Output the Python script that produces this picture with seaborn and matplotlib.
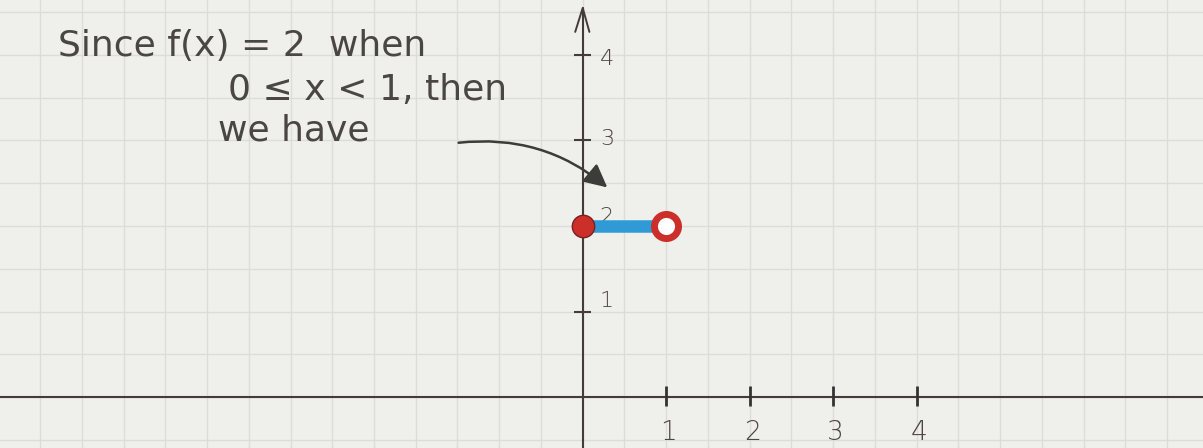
import numpy as np
import pandas as pd
import matplotlib
matplotlib.use("Agg")
import matplotlib.pyplot as plt
from matplotlib.ticker import MultipleLocator
from matplotlib.patches import FancyArrowPatch
import seaborn as sns

# --- data -------------------------------------------------------------
seg_x = [0, 1]          # f(x) = 2 on 0 <= x < 1
seg_y = [2, 2]
closed_x, closed_y = [0], [2]   # included endpoint
open_x, open_y = [1], [2]       # excluded endpoint
x_ticks = [1, 2, 3, 4]
y_ticks = [1, 2, 3, 4]
y_label_lift = [0.12, 0.1, 0.02, -0.05]
note_lines = ["Since f(x) = 2  when", "0 \u2264 x < 1, then", "we have"]

# --- style ------------------------------------------------------------
sns.set_theme(style="white")
plt.rcParams["font.family"] = ["DejaVu Sans", "Noto Sans"]

paper = "#efefec"
grid_c = "#dcdcd9"
ink = "#4a4644"
axis_c = "#443c3a"
blue = "#2f9ad6"
red = "#cc2f2a"

fig = plt.figure(figsize=(12.03, 4.48), dpi=100)
fig.patch.set_facecolor(paper)
ax = fig.add_axes([0, 0, 1, 1])
ax.set_facecolor(paper)

ax.set_xlim(-6.98, 7.43)
ax.set_ylim(-0.596, 4.643)

# graph-paper grid, half-unit squares
ax.xaxis.set_major_locator(MultipleLocator(0.5))
ax.yaxis.set_major_locator(MultipleLocator(0.5))
ax.grid(True, color=grid_c, linewidth=1.0)
ax.tick_params(length=0, labelbottom=False, labelleft=False)
for s in ax.spines.values():
    s.set_visible(False)

# coordinate axes
ax.axhline(0, color=axis_c, lw=1.5, zorder=3)
ax.plot([0, 0], [-0.6, 4.55], color=axis_c, lw=1.5, zorder=3)
ax.plot([-0.09, 0, 0.08], [4.27, 4.55, 4.27], color=axis_c, lw=1.4, zorder=3)

# tick marks and labels
ax.vlines(x_ticks, -0.11, 0.13, color="#333333", lw=2.0, zorder=3)
for t in x_ticks:
    ax.text(t + 0.03, -0.42, str(t), ha="center", va="center",
            fontsize=19, color=ink, fontweight="light")
ax.hlines(y_ticks, -0.1, 0.1, color=axis_c, lw=1.5, zorder=3)
for t, lift in zip(y_ticks, y_label_lift):
    ax.text(0.29, t + lift, str(t), ha="center", va="center",
            fontsize=16, color=ink, fontweight="light")

# the function piece
df_seg = pd.DataFrame({"x": seg_x, "y": seg_y})
sns.lineplot(data=df_seg, x="x", y="y", ax=ax, color=blue, lw=9,
             solid_capstyle="butt", zorder=4)
sns.scatterplot(x=closed_x, y=closed_y, ax=ax, s=260, color=red,
                edgecolor="#7a2020", linewidth=1.0, zorder=5)
sns.scatterplot(x=open_x, y=open_y, ax=ax, s=300, color="white",
                edgecolor=red, linewidth=5, zorder=5)

# handwritten-style note
note_pos = [(-6.29, 4.10), (-4.25, 3.59), (-4.37, 3.12)]
for (tx, ty), line in zip(note_pos, note_lines):
    ax.text(tx, ty, line, fontsize=26, color=ink, va="center", ha="left",
            fontweight="normal", family=["DejaVu Sans", "Noto Sans"])

arrow = FancyArrowPatch((-1.52, 2.97), (0.32, 2.43),
                        connectionstyle="arc3,rad=-0.22",
                        arrowstyle="-|>,head_length=14,head_width=7",
                        color="#3c3c3a", lw=1.8, zorder=6)
ax.add_patch(arrow)

fig.savefig("out.png", dpi=100, facecolor=paper)
